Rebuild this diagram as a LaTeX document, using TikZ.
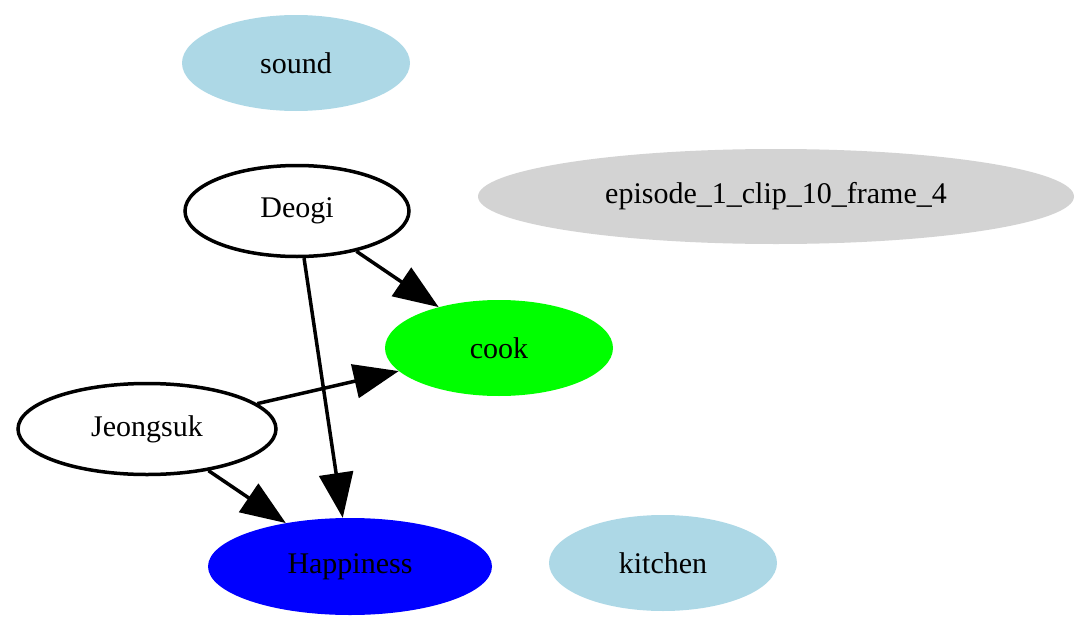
\documentclass[tikz,border=0pt]{standalone}
\usepackage{fontspec}
\setmainfont{Liberation Serif}
\usetikzlibrary{shapes.geometric,arrows.meta}
\definecolor{lblue}{HTML}{ADD8E6}
\definecolor{lgray}{HTML}{D3D3D3}
\definecolor{gvgreen}{HTML}{00FF00}
\definecolor{gvblue}{HTML}{0000FF}
\tikzset{
  gvnode/.style={ellipse, inner sep=0pt, font=\fontsize{30}{36}\selectfont},
  outlined/.style={gvnode, draw=black, line width=3.5pt, fill=white},
  filledn/.style={gvnode, draw=none},
  edge/.style={line width=3.5pt, -{Triangle[length=45pt,width=34pt]}}
}
\begin{document}
\begin{tikzpicture}[x=1pt,y=-1pt]
\useasboundingbox (0,0) rectangle (1087,629);
\node[filledn, fill=lblue, minimum width=228pt, minimum height=96pt] (sound) at (296,63) {sound};
\node[outlined, minimum width=224pt, minimum height=91pt] (deogi) at (297,211) {Deogi};
\node[filledn, fill=lgray, minimum width=596pt, minimum height=95pt] (episode) at (776,196.5) {episode\_1\_clip\_10\_frame\_4};
\node[filledn, fill=gvgreen, minimum width=228pt, minimum height=96pt] (cook) at (499,348) {cook};
\node[outlined, minimum width=258pt, minimum height=91pt] (jeong) at (147,429) {Jeongsuk};
\node[filledn, fill=gvblue, minimum width=284pt, minimum height=97pt] (happy) at (350,566.5) {Happiness};
\node[filledn, fill=lblue, minimum width=228pt, minimum height=96pt] (kitchen) at (663,563) {kitchen};
\draw[edge] (deogi) -- (cook);
\draw[edge] (deogi) -- (happy);
\draw[edge] (jeong) -- (cook);
\draw[edge] (jeong) -- (happy);
\end{tikzpicture}
\end{document}
